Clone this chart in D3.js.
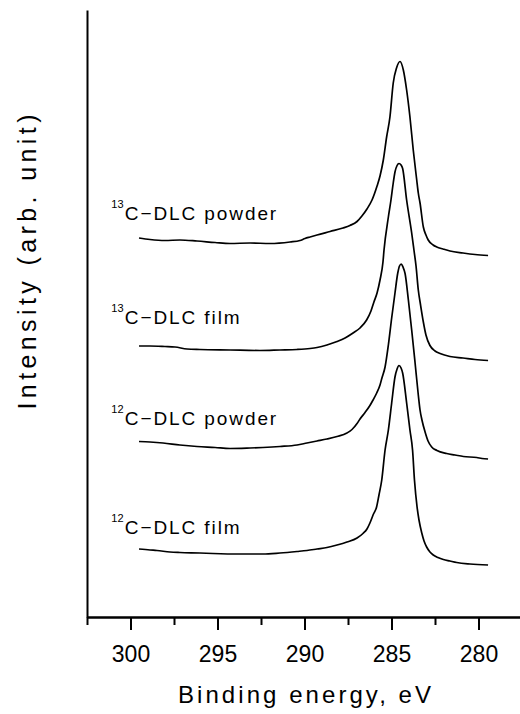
<!DOCTYPE html>
<html>
<head>
<meta charset="utf-8">
<script src="https://cdn.jsdelivr.net/npm/d3@7"></script>
<style>
  html, body { margin: 0; padding: 0; background: #fff; }
  svg { display: block; }
  text { font-family: "Liberation Sans", Arial, sans-serif; fill: #000; }
</style>
</head>
<body>
<svg id="chart" width="520" height="714"></svg>
<script>
// C 1s XPS spectra of DLC samples, stacked vertically (arb. units).
// Each series: [binding energy (eV), intensity]
const film12 = [
  [299.51,1.36],[298.88,1.34],[298.48,1.33],[297.73,1.30],[297.16,1.29],[296.01,1.28],
  [295.26,1.27],[293.71,1.26],[292.39,1.26],[291.41,1.28],[290.43,1.31],[289.86,1.33],
  [289.28,1.36],[288.71,1.39],[288.13,1.44],[287.56,1.50],[286.98,1.58],[286.64,1.67],
  [286.41,1.76],[286.24,1.88],[286.06,2.04],[285.85,2.21],[285.72,2.44],[285.56,2.74],
  [285.37,3.34],[285.18,3.74],[284.99,4.28],[284.80,4.80],[284.68,4.96],[284.57,5.03],
  [284.45,4.98],[284.36,4.88],[284.13,4.28],[283.94,3.74],[283.79,3.34],[283.68,2.74],
  [283.53,2.20],[283.42,1.94],[283.26,1.68],[283.13,1.52],[282.98,1.40],[282.79,1.30],
  [282.60,1.24],[282.33,1.19],[282.02,1.15],[281.64,1.12],[281.25,1.09],[280.49,1.06],
  [279.45,1.04]
];
const powder12 = [
  [299.51,3.51],[298.88,3.50],[298.13,3.48],[297.16,3.44],[296.18,3.41],[295.14,3.39],
  [294.28,3.37],[293.13,3.38],[292.39,3.39],[291.41,3.41],[290.43,3.44],[289.86,3.48],
  [289.28,3.52],[288.71,3.56],[288.13,3.61],[287.56,3.68],[287.27,3.75],[286.98,3.87],
  [286.81,3.96],[286.52,4.09],[286.24,4.23],[286.06,4.34],[285.85,4.48],[285.66,4.64],
  [285.55,4.78],[285.37,5.00],[285.18,5.44],[284.99,5.98],[284.80,6.48],[284.64,6.88],
  [284.54,7.02],[284.44,7.06],[284.34,7.00],[284.22,6.87],[284.03,6.34],[283.84,5.74],
  [283.65,5.10],[283.46,4.44],[283.36,4.14],[283.25,3.94],[283.07,3.70],[282.90,3.52],
  [282.69,3.40],[282.39,3.33],[281.83,3.27],[281.35,3.24],[280.87,3.21],[280.10,3.19],
  [279.80,3.17],[279.45,3.16]
];
const film13 = [
  [299.51,5.42],[298.88,5.42],[298.02,5.41],[297.44,5.40],[296.75,5.36],[296.01,5.35],
  [294.28,5.34],[292.56,5.33],[291.41,5.34],[290.43,5.35],[289.68,5.37],[289.28,5.39],
  [288.71,5.44],[288.13,5.51],[287.67,5.58],[287.21,5.68],[286.81,5.78],[286.43,5.94],
  [286.18,6.12],[286.01,6.30],[285.83,6.48],[285.66,6.74],[285.49,7.10],[285.43,7.34],
  [285.18,8.00],[285.03,8.34],[284.90,8.68],[284.80,8.90],[284.68,9.03],[284.57,9.07],
  [284.45,9.04],[284.36,8.97],[284.13,8.34],[283.84,7.68],[283.71,7.34],[283.59,7.02],
  [283.46,6.54],[283.33,6.24],[283.17,5.90],[283.02,5.64],[282.79,5.43],[282.50,5.32],
  [282.21,5.27],[281.64,5.21],[280.89,5.18],[280.20,5.15],[279.45,5.13]
];
const powder13 = [
  [299.51,7.58],[298.88,7.55],[298.02,7.53],[297.16,7.54],[296.18,7.52],[295.14,7.49],
  [294.28,7.47],[293.13,7.48],[291.98,7.47],[290.83,7.50],[290.26,7.53],[289.97,7.57],
  [289.68,7.60],[289.28,7.64],[288.53,7.71],[287.79,7.78],[287.39,7.83],[286.98,7.91],
  [286.70,8.02],[286.41,8.16],[286.12,8.34],[285.83,8.62],[285.66,8.82],[285.47,9.14],
  [285.28,9.60],[285.09,10.00],[284.90,10.68],[284.71,10.98],[284.51,11.11],[284.32,10.94],
  [284.13,10.54],[283.94,10.00],[283.75,9.34],[283.55,8.74],[283.46,8.48],[283.36,8.28],
  [283.17,7.80],[283.02,7.64],[282.89,7.54],[282.61,7.44],[282.40,7.40],[282.04,7.36],
  [281.64,7.32],[280.89,7.28],[280.20,7.25],[279.45,7.23]
];

const seriesList = [film12, powder12, film13, powder13];
const isotopes = ["12", "12", "13", "13"];
const sampleNames = ["C\u2212DLC film", "C\u2212DLC powder", "C\u2212DLC film", "C\u2212DLC powder"];
const labelIntensity = [1.67, 3.84, 5.87, 7.94];

const majorTicks = [300, 295, 290, 285, 280];
const minorTicks = [302.5, 297.5, 292.5, 287.5, 282.5];
const xDomain = [302.5, 277.5];
const yDomain = [0, 12.14];
const xTitle = "Binding energy, eV";
const yTitle = "Intensity (arb. unit)";

// ---- layout ----
const svg = d3.select("#chart");
const plotLeft = 87, plotRight = 522, plotTop = 10, plotBottom = 617;

const x = d3.scaleLinear().domain(xDomain).range([plotLeft, plotRight]);
const y = d3.scaleLinear().domain(yDomain).range([plotBottom, plotTop]);

const line = d3.line()
  .x(d => x(d[0]))
  .y(d => y(d[1]))
  .curve(d3.curveMonotoneX);

// spectra
svg.append("g")
  .selectAll("path")
  .data(seriesList)
  .join("path")
  .attr("d", line)
  .attr("fill", "none")
  .attr("stroke", "#000")
  .attr("stroke-width", 1.7)
  .attr("stroke-linejoin", "round");

// sample labels with isotope superscript
const labels = svg.append("g")
  .selectAll("g")
  .data(seriesList.map((s, i) => i))
  .join("g")
  .attr("transform", i => `translate(${x(301.1)},${y(labelIntensity[i])})`);
labels.append("text")
  .attr("font-size", 11)
  .attr("y", -12)
  .text(i => isotopes[i]);
labels.append("text")
  .attr("x", 13.5)
  .attr("font-size", 19)
  .attr("letter-spacing", 1.9)
  .text(i => sampleNames[i]);

// x axis: major ticks with labels, minor ticks without
const xAxisG = svg.append("g").attr("transform", `translate(0,${plotBottom})`);
const majorAxis = d3.axisBottom(x).tickValues(majorTicks).tickSize(13).tickSizeOuter(0).tickFormat(d3.format("d"));
const minorAxis = d3.axisBottom(x).tickValues(minorTicks).tickSize(8).tickSizeOuter(0).tickFormat("");
xAxisG.append("g").call(minorAxis);
xAxisG.append("g").call(majorAxis);
xAxisG.selectAll("path.domain").attr("stroke-width", 2);
xAxisG.selectAll(".tick line").attr("stroke-width", 2);
xAxisG.selectAll(".tick text")
  .attr("y", 45).attr("dy", 0)
  .attr("font-size", 23)
  .attr("font-family", "'Liberation Sans', Arial, sans-serif")
  .attr("fill", "#000");

// y axis: plain line
const yAxisG = svg.append("g").attr("transform", `translate(${plotLeft},0)`)
  .call(d3.axisLeft(y).tickValues([]).tickSizeOuter(0));
yAxisG.select("path.domain").attr("stroke-width", 2);

// axis titles
svg.append("text")
  .attr("x", x(290)).attr("y", 703)
  .attr("text-anchor", "middle")
  .attr("font-size", 24)
  .attr("textLength", 253)
  .attr("lengthAdjust", "spacing")
  .text(xTitle);

svg.append("text")
  .attr("transform", `translate(36,262) rotate(-90)`)
  .attr("text-anchor", "middle")
  .attr("font-size", 25)
  .attr("textLength", 295)
  .attr("lengthAdjust", "spacing")
  .text(yTitle);
</script>
</body>
</html>
